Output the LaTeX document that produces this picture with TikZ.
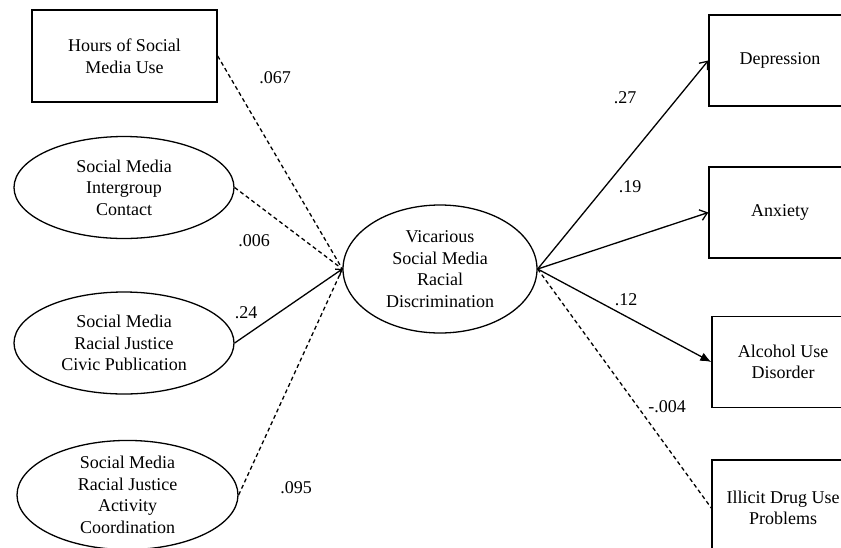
\documentclass[tikz,border=0pt]{standalone}
\usepackage{fontspec}
\setmainfont{Liberation Serif}
\usetikzlibrary{shapes.geometric,arrows.meta}
\tikzset{
  varbox/.style={draw,line width=1.4pt,minimum width=185pt,minimum height=92pt,align=center,inner sep=2pt},
  outbox/.style={draw,line width=1.4pt,minimum width=142pt,minimum height=91pt,align=center,inner sep=2pt},
  latent/.style={draw,ellipse,line width=1.3pt,minimum width=220pt,minimum height=102pt,align=center,inner sep=0pt},
  solidpath/.style={line width=1.3pt},
  dashpath/.style={line width=1.3pt,dash pattern=on 4pt off 3pt},
  coef/.style={inner sep=0pt}
}
\begin{document}
\begin{tikzpicture}[x=1pt,y=-1pt,font=\fontsize{18}{21.5}\selectfont]
\useasboundingbox (0,0) rectangle (841,547);
\clip (0,0) rectangle (841,547);
% predictors
\node[varbox] (hours) at (124.5,56) {Hours of Social\\Media Use};
\node[latent] (contact) at (124,187.5) {Social Media\\Intergroup\\Contact};
\node[latent] (civic) at (124,343) {Social Media\\Racial Justice\\Civic Publication};
\node[latent,minimum width=221pt,minimum height=106pt] (activity) at (127.5,495) {Social Media\\Racial Justice\\Activity\\Coordination};
% mediator
\node[latent,minimum width=194pt,minimum height=128pt] (vicarious) at (440,269) {Vicarious\\Social Media\\Racial\\Discrimination};
% outcomes
\node[outbox] (depression) at (780,60.5) {Depression};
\node[outbox] (anxiety) at (780,212.5) {Anxiety};
\node[outbox] (alcohol) at (783,362) {Alcohol Use\\Disorder};
\node[outbox,minimum height=96pt] (drug) at (783,508) {Illicit Drug Use\\Problems};
% paths in
\draw[dashpath] (hours.east) -- (vicarious.west);
\draw[dashpath] (contact.east) -- (vicarious.west);
\draw[solidpath,-{Straight Barb[length=5pt,width=8pt]}] (civic.east) -- (vicarious.west);
\draw[dashpath] (activity.east) -- (vicarious.west);
% paths out
\draw[solidpath,-{Straight Barb[length=7pt,width=11pt]}] (vicarious.east) -- (depression.west);
\draw[solidpath,-{Straight Barb[length=7pt,width=11pt]}] (vicarious.east) -- (anxiety.west);
\draw[solidpath,-{Latex[length=11pt,width=9pt]}] (vicarious.east) -- (alcohol.west);
\draw[dashpath] (vicarious.east) -- (drug.west);
% coefficients
\node[coef] (b1) at (275,78) {.067};
\node[coef] (b2) at (254,241) {.006};
\node[coef] (b3) at (246,313) {.24};
\node[coef] (b4) at (296,488) {.095};
\node[coef] (b5) at (625,98) {.27};
\node[coef] (b6) at (630,187) {.19};
\node[coef] (b7) at (626,300) {.12};
\node[coef] (b8) at (667,407) {-.004};
\end{tikzpicture}
\end{document}
